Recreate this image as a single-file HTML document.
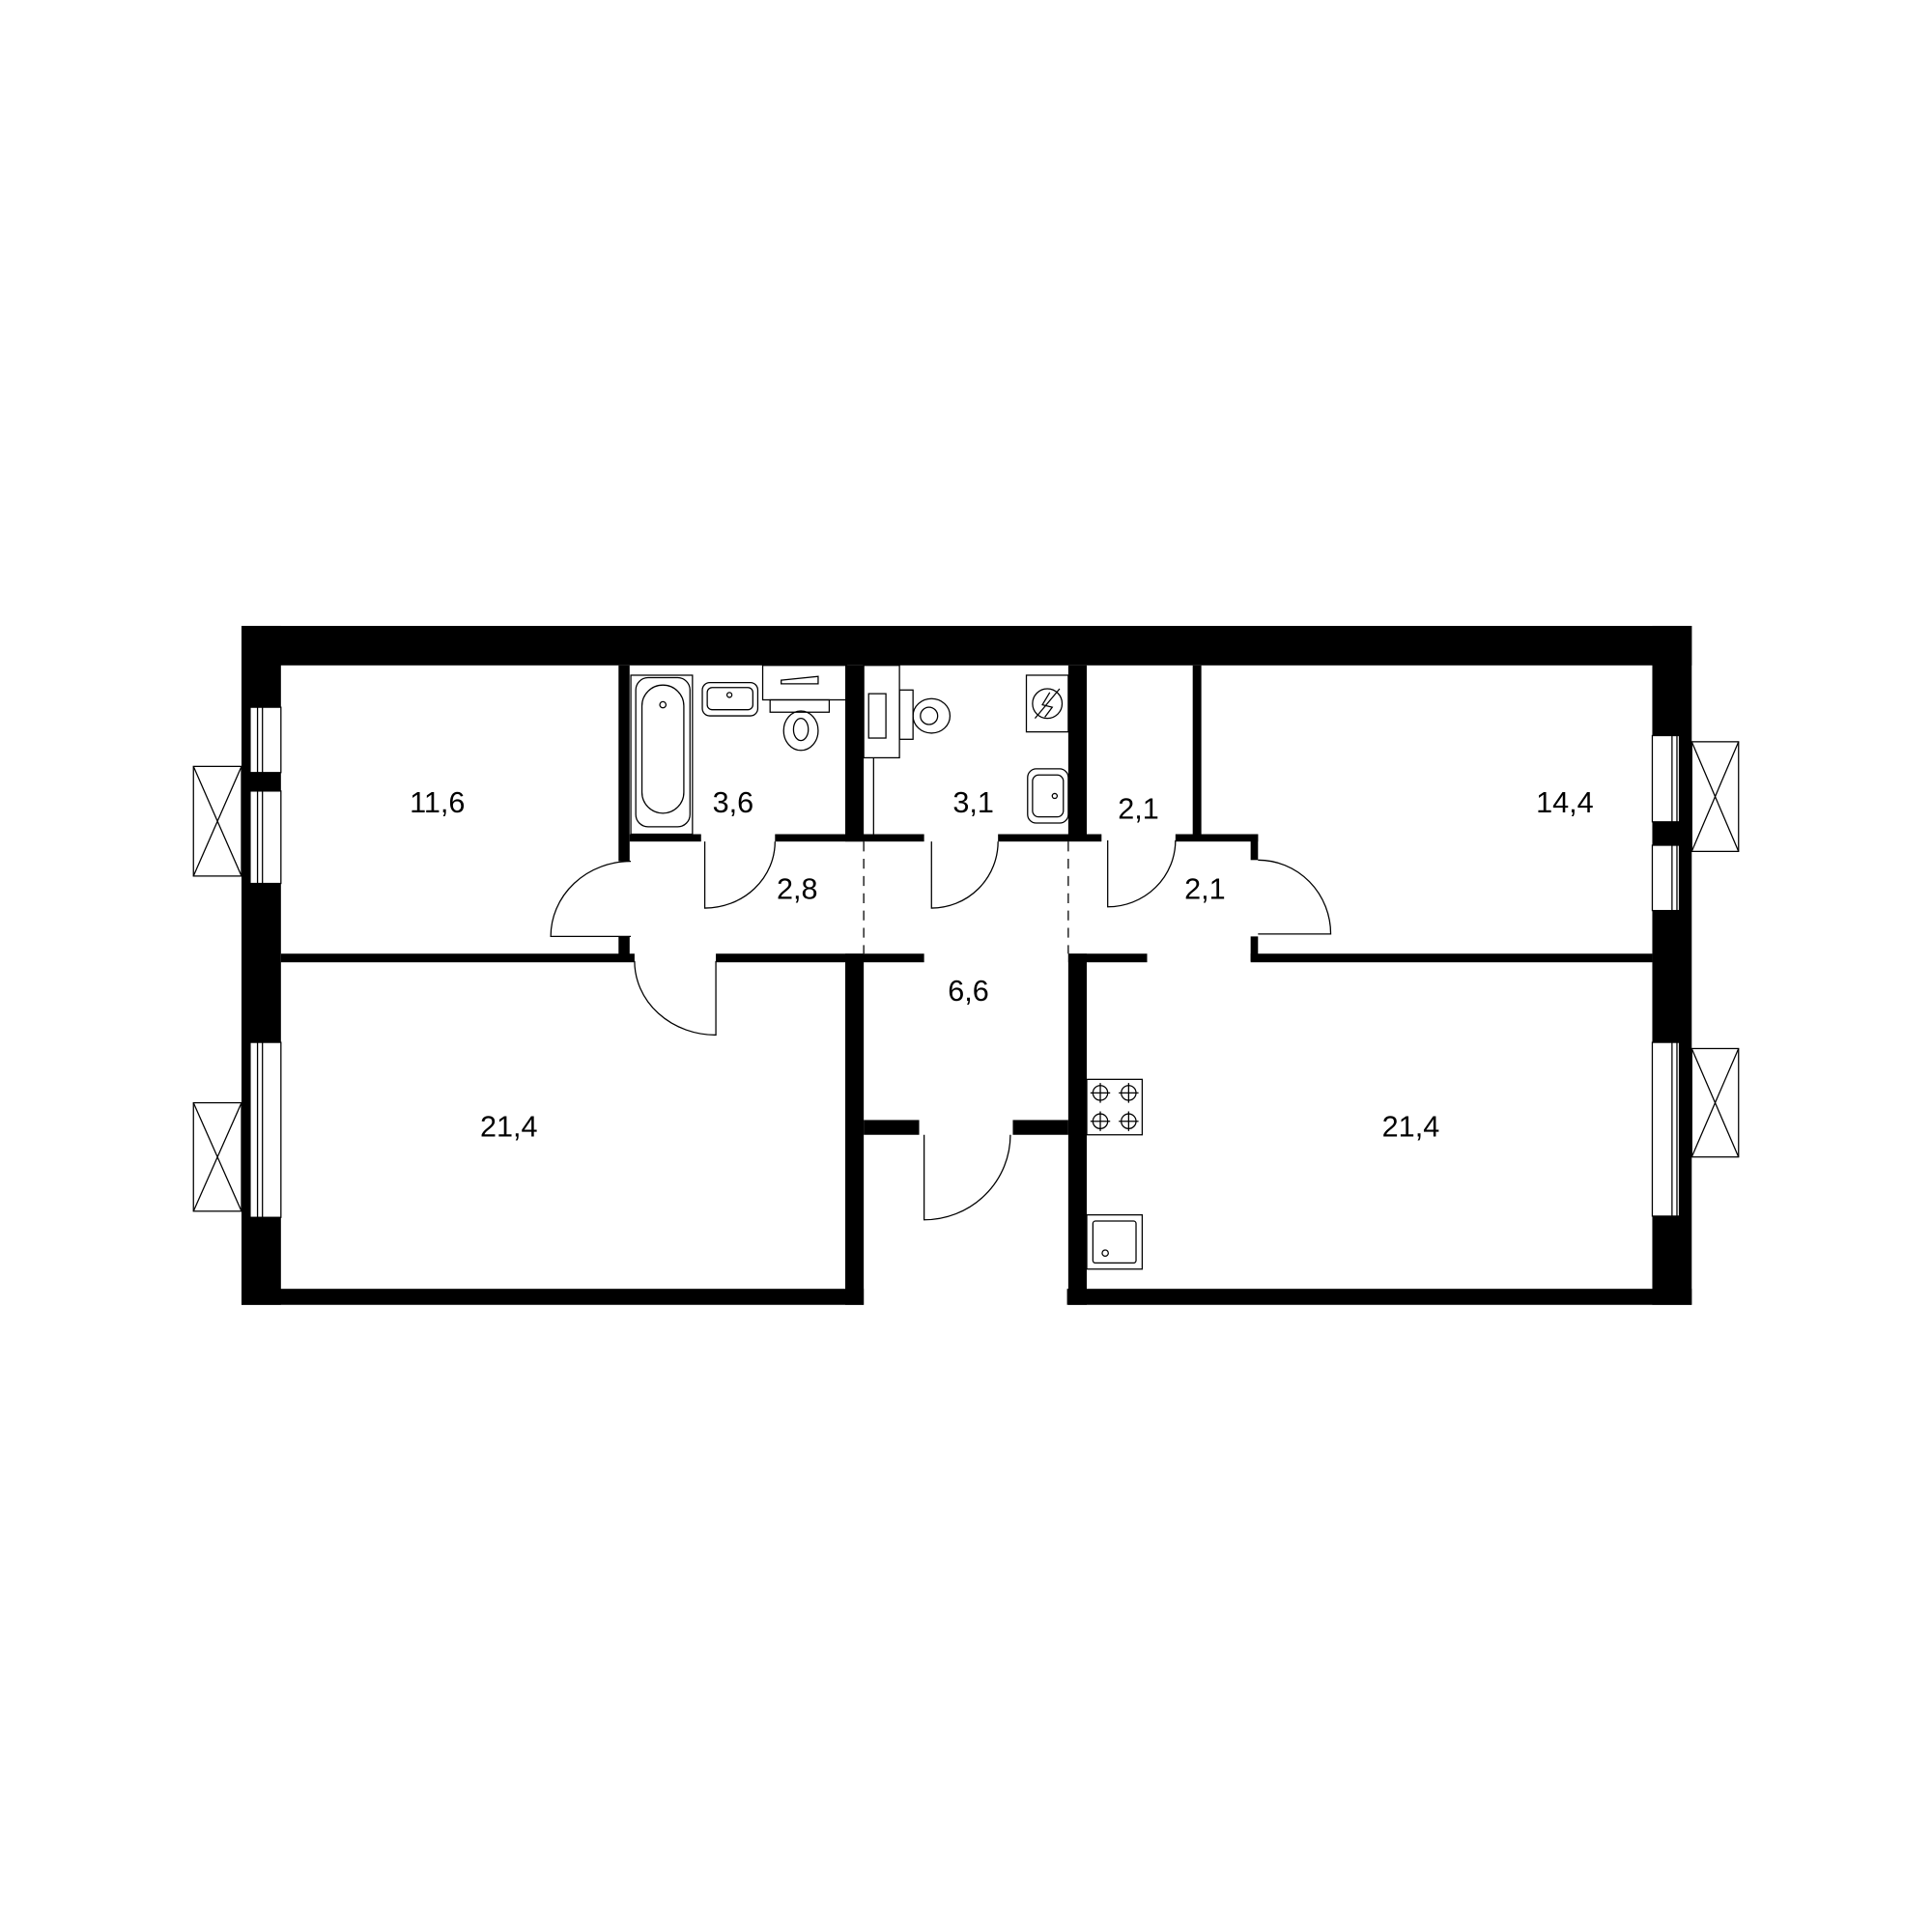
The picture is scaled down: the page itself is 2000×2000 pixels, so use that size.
<!DOCTYPE html>
<html><head><meta charset="utf-8"><style>
html,body{margin:0;padding:0;background:#fff}
svg{display:block}
text{font-family:"Liberation Sans",sans-serif;font-size:24px;fill:#000;text-anchor:middle;dominant-baseline:middle}
</style></head><body>
<svg width="2000" height="2000" viewBox="0 0 1568 1568" xmlns="http://www.w3.org/2000/svg">
<rect width="1568" height="1568" fill="#fff"/>
<g fill="#000">
<rect x="196" y="508" width="1177" height="32"/>
<rect x="196" y="508" width="32" height="551"/>
<rect x="1341" y="508" width="32" height="551"/>
<rect x="196" y="1046" width="505" height="13"/>
<rect x="866" y="1046" width="507" height="13"/>
<rect x="502" y="540" width="9" height="159"/>
<rect x="502" y="760" width="9" height="15"/>
<rect x="686" y="540" width="15" height="143"/>
<rect x="686" y="774" width="15" height="285"/>
<rect x="867" y="540" width="15" height="142"/>
<rect x="867" y="774" width="15" height="285"/>
<rect x="968" y="540" width="7" height="142"/>
<rect x="1015" y="677" width="6" height="21"/>
<rect x="1015" y="760" width="6" height="20"/>
<rect x="228" y="774" width="287" height="7"/>
<rect x="581" y="774" width="169" height="7"/>
<rect x="867" y="774" width="64" height="7"/>
<rect x="1015" y="774" width="326" height="7"/>
<rect x="511" y="677" width="58" height="6"/>
<rect x="629" y="677" width="121" height="6"/>
<rect x="810" y="677" width="84" height="6"/>
<rect x="954" y="677" width="67" height="6"/>
<rect x="701" y="909" width="45" height="12"/>
<rect x="822" y="909" width="45" height="12"/>
</g>
<g fill="#fff" stroke="#000" stroke-width="1">
<rect x="203" y="574" width="25" height="53"/><rect x="203" y="642" width="25" height="75"/>
<rect x="203" y="846" width="25" height="142"/>
<rect x="1341" y="597" width="22" height="70"/><rect x="1341" y="686" width="22" height="53"/>
<rect x="1341" y="846" width="22" height="141"/>
</g>
<g fill="none" stroke="#000" stroke-width="1">
<line x1="701" y1="683" x2="701" y2="774" stroke-dasharray="8,6"/>
<line x1="867" y1="683" x2="867" y2="774" stroke-dasharray="8,6"/>
<path d="M512 760 L447 760 A65 61 0 0 1 512 699"/>
<path d="M581 780 L581 840 A66 60 0 0 1 515 780"/>
<path d="M572 683 L572 737 A57 54 0 0 0 629 683"/>
<path d="M756 683 L756 737 A54 54 0 0 0 810 683"/>
<path d="M899 682 L899 736 A55 54 0 0 0 954 682"/>
<path d="M1021 758 L1080 758 A59 60 0 0 0 1021 698"/>
<path d="M750 921 L750 990 A70 69 0 0 0 820 921"/>
<line x1="209" y1="574" x2="209" y2="717"/><line x1="213" y1="574" x2="213" y2="717"/>
<rect x="157" y="622" width="39" height="89"/><path d="M157 622 L196 711 M196 622 L157 711"/>
<line x1="209" y1="846" x2="209" y2="988"/><line x1="213" y1="846" x2="213" y2="988"/>
<rect x="157" y="895" width="39" height="88"/><path d="M157 895 L196 983 M196 895 L157 983"/>
<line x1="1357" y1="597" x2="1357" y2="739"/><line x1="1361" y1="597" x2="1361" y2="739"/>
<rect x="1373" y="602" width="38" height="89"/><path d="M1373 602 L1411 691 M1411 602 L1373 691"/>
<line x1="1357" y1="846" x2="1357" y2="987"/><line x1="1361" y1="846" x2="1361" y2="987"/>
<rect x="1373" y="851" width="38" height="88"/><path d="M1373 851 L1411 939 M1411 851 L1373 939"/>
<rect x="512" y="548" width="50" height="129"/>
<rect x="516" y="550" width="44" height="121" rx="10"/>
<rect x="521" y="556" width="34" height="104" rx="17"/>
<circle cx="538" cy="572" r="2.5"/>
<rect x="570" y="554" width="45" height="27" rx="6"/>
<rect x="574" y="558" width="37" height="18" rx="4"/>
<circle cx="592" cy="564" r="2"/>
<rect x="619" y="540" width="68" height="28"/>
<rect x="625" y="568" width="48" height="10"/>
<path d="M634 552 L664 549 L664 555 L634 555 Z"/>
<ellipse cx="650" cy="593" rx="14" ry="16"/>
<ellipse cx="650" cy="592" rx="6" ry="9"/>
<rect x="701" y="540" width="29" height="75"/>
<rect x="705" y="563" width="14" height="36"/>
<rect x="730" y="560" width="11" height="40"/>
<ellipse cx="756" cy="581" rx="15" ry="14"/>
<ellipse cx="754" cy="581" rx="7" ry="7"/>
<line x1="709" y1="615" x2="709" y2="677"/>
<rect x="833" y="548" width="34" height="46"/>
<circle cx="850" cy="571" r="12"/><path d="M840 583 L860 559 M852 562 L846 572 L854 574 L848 582"/>
<rect x="834" y="624" width="33" height="44" rx="7"/>
<rect x="838" y="629" width="25" height="34" rx="5"/>
<circle cx="856" cy="646" r="2"/>
<rect x="882" y="876" width="45" height="45"/>
<circle cx="893" cy="887" r="6"/><circle cx="916" cy="887" r="6"/><circle cx="893" cy="910" r="6"/><circle cx="916" cy="910" r="6"/>
<path d="M885 887 h16 M893 879 v16 M908 887 h16 M916 879 v16 M885 910 h16 M893 902 v16 M908 910 h16 M916 902 v16"/>
<rect x="882" y="986" width="45" height="44"/>
<rect x="887" y="991" width="35" height="34" rx="2"/>
<circle cx="897" cy="1017" r="2.5"/>
</g>
<text x="355" y="653">11,6</text>
<text x="595" y="653">3,6</text>
<text x="647" y="723">2,8</text>
<text x="790" y="653">3,1</text>
<text x="924" y="658">2,1</text>
<text x="978" y="723">2,1</text>
<text x="1270" y="653">14,4</text>
<text x="786" y="806">6,6</text>
<text x="413" y="916">21,4</text>
<text x="1145" y="916">21,4</text>
</svg>
</body></html>
